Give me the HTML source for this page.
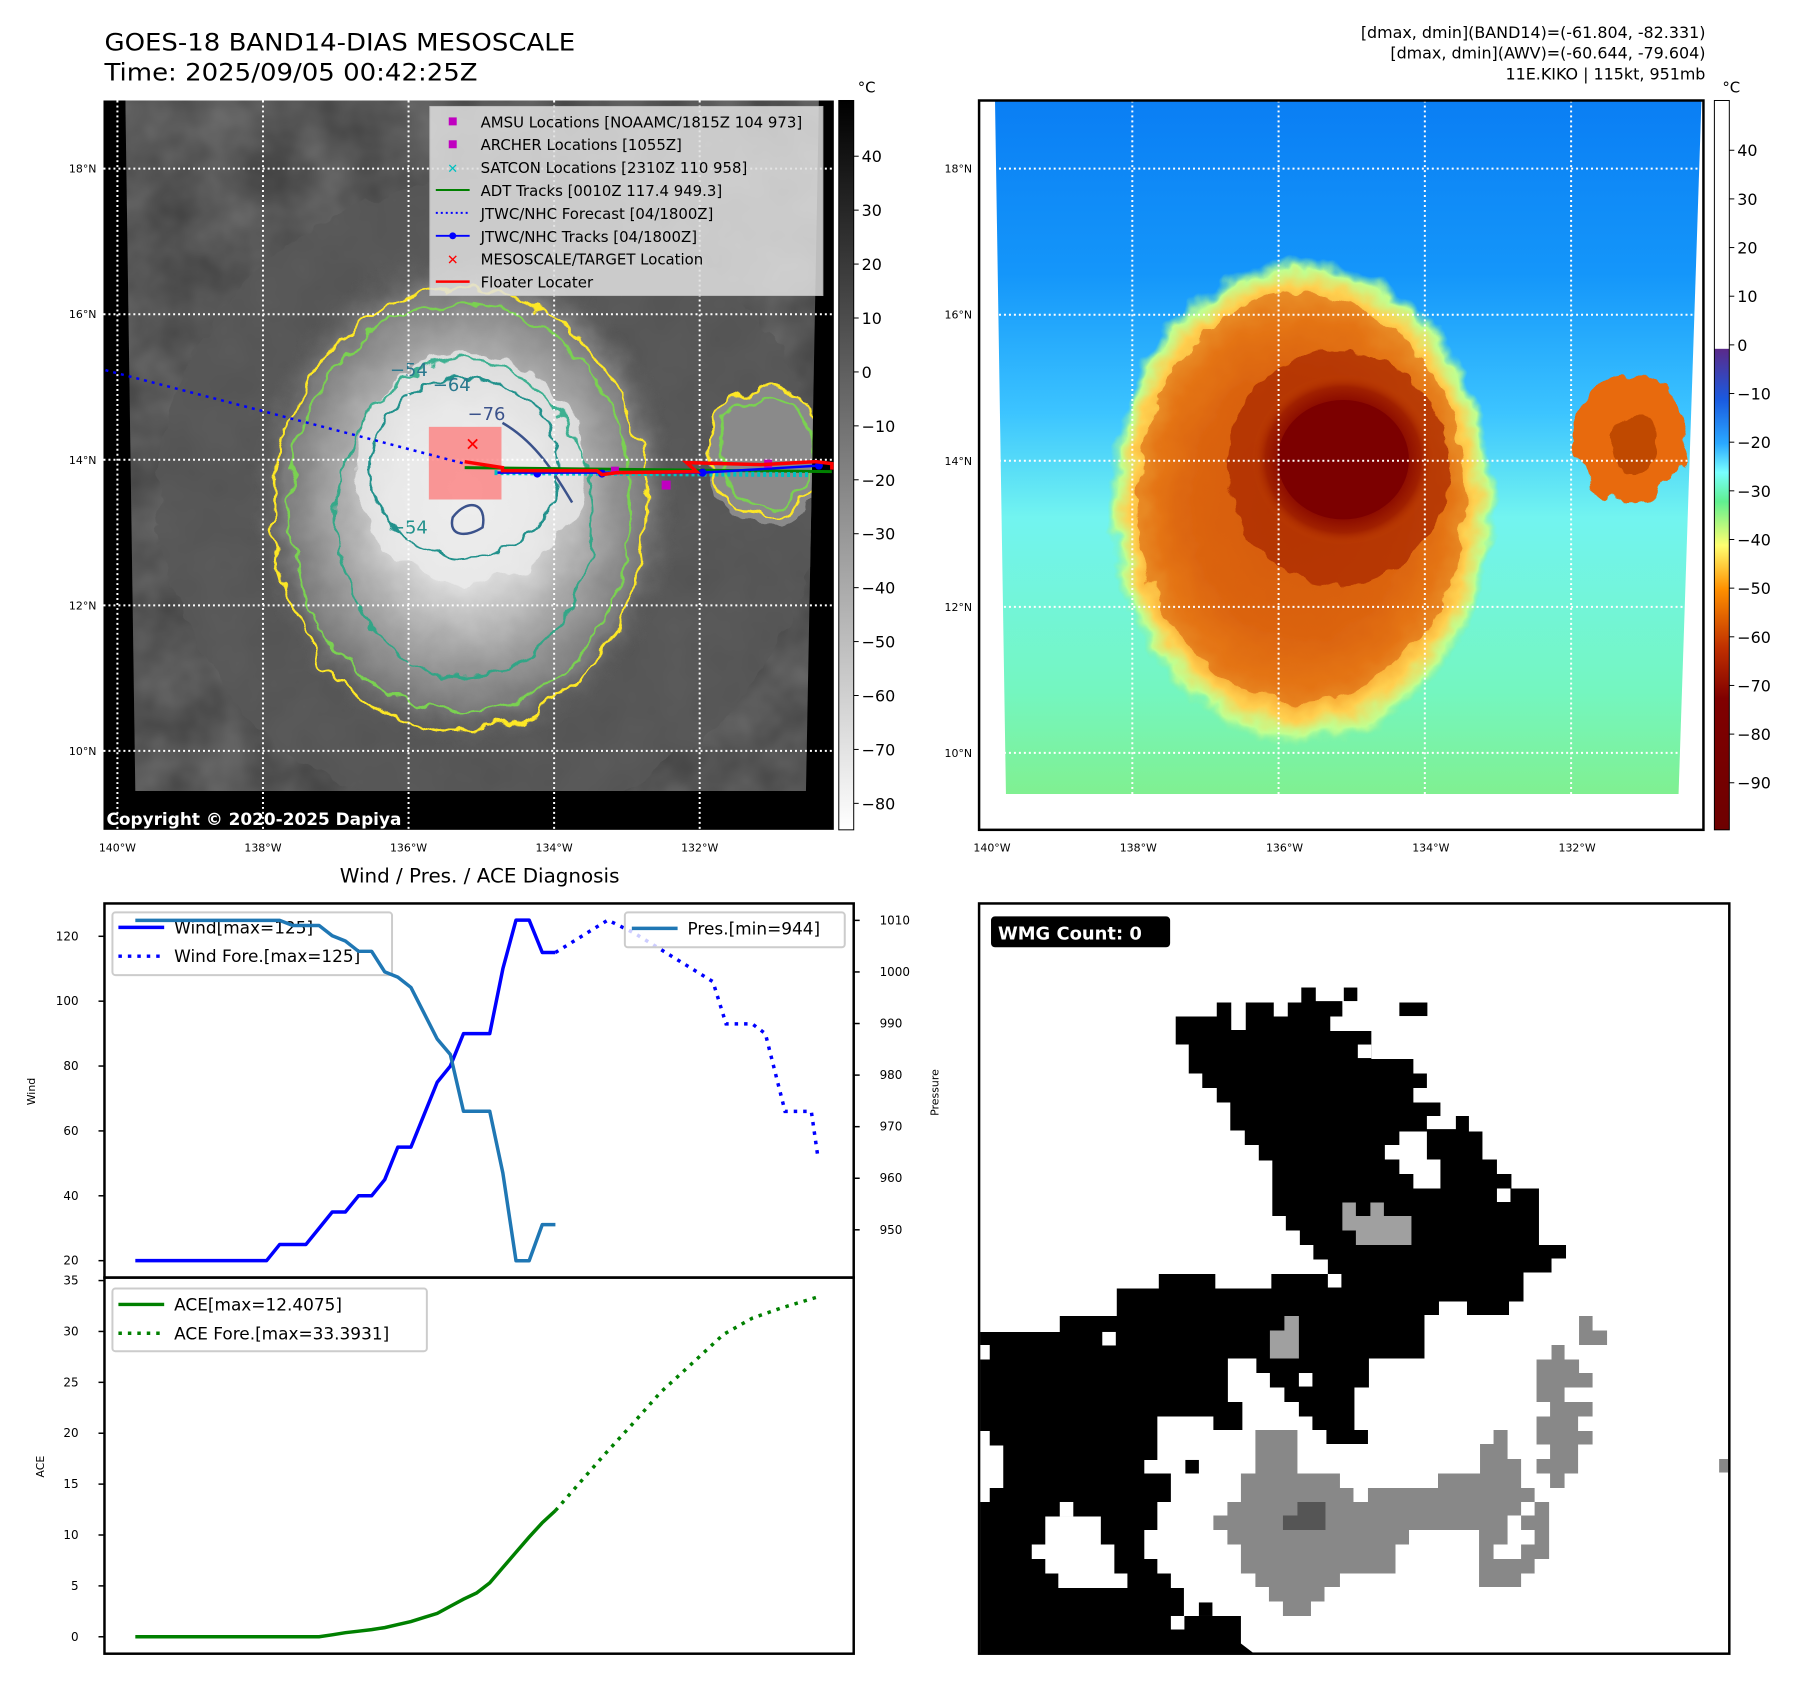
<!DOCTYPE html>
<html><head><meta charset="utf-8"><style>
html,body{margin:0;padding:0;background:#fff;}
svg{display:block;font-family:"DejaVu Sans","Liberation Sans",sans-serif;}
</style></head><body>
<svg width="1797" height="1690" viewBox="0 0 1797 1690" xmlns="http://www.w3.org/2000/svg">
<defs>
<filter id="rough" x="-20%" y="-20%" width="140%" height="140%">
<feTurbulence type="fractalNoise" baseFrequency="0.035" numOctaves="3" seed="4" result="n"/>
<feDisplacementMap in="SourceGraphic" in2="n" scale="22" xChannelSelector="R" yChannelSelector="G"/>
</filter>
<filter id="rough2" x="-20%" y="-20%" width="140%" height="140%">
<feTurbulence type="fractalNoise" baseFrequency="0.06" numOctaves="2" seed="7" result="n"/>
<feDisplacementMap in="SourceGraphic" in2="n" scale="14" xChannelSelector="R" yChannelSelector="G"/>
</filter>
<filter id="noise"><feTurbulence type="fractalNoise" baseFrequency="0.02" numOctaves="3" seed="2"/><feColorMatrix type="matrix" values="0 0 0 0 0.35  0 0 0 0 0.35  0 0 0 0 0.35  0 0 0 0.5 0"/></filter>
<radialGradient id="cloudG" cx="0.5" cy="0.5" r="0.5">
<stop offset="0" stop-color="#f2f2f2"/><stop offset="0.35" stop-color="#dcdcdc"/><stop offset="0.6" stop-color="#a8a8a8"/><stop offset="0.85" stop-color="#7a7a7a"/><stop offset="1" stop-color="#5a5a5a" stop-opacity="0"/>
</radialGradient>
<linearGradient id="bgR" x1="0" y1="0" x2="0" y2="1">
<stop offset="0" stop-color="#0a7ef4"/><stop offset="0.25" stop-color="#1496fa"/><stop offset="0.45" stop-color="#3cc4ff"/><stop offset="0.6" stop-color="#72f4f0"/><stop offset="0.85" stop-color="#74f6c0"/><stop offset="1" stop-color="#80f090"/>
</linearGradient>
<radialGradient id="stormR" cx="0.5" cy="0.5" r="0.5">
<stop offset="0" stop-color="#d05000"/><stop offset="0.55" stop-color="#e06810"/><stop offset="0.75" stop-color="#f59020"/><stop offset="0.88" stop-color="#ffd050"/><stop offset="0.95" stop-color="#c0ff90"/><stop offset="1" stop-color="#80f0a0" stop-opacity="0"/>
</radialGradient>
<radialGradient id="coreR" cx="0.5" cy="0.5" r="0.5">
<stop offset="0" stop-color="#7a0000"/><stop offset="0.6" stop-color="#800000"/><stop offset="0.85" stop-color="#a02000"/><stop offset="1" stop-color="#c04000" stop-opacity="0"/>
</radialGradient>
<linearGradient id="cb1" x1="0" y1="0" x2="0" y2="1"><stop offset="0" stop-color="#000"/><stop offset="1" stop-color="#fff"/></linearGradient>
<linearGradient id="cb2" x1="0" y1="0" x2="0" y2="1">
<stop offset="0" stop-color="#fff"/><stop offset="0.34" stop-color="#fff"/><stop offset="0.341" stop-color="#5a2a8a"/>
<stop offset="0.41" stop-color="#1a5ae0"/><stop offset="0.47" stop-color="#2aa8ff"/><stop offset="0.51" stop-color="#78ffff"/><stop offset="0.55" stop-color="#60f090"/>
<stop offset="0.61" stop-color="#ffff70"/><stop offset="0.67" stop-color="#ff9000"/><stop offset="0.75" stop-color="#c03000"/><stop offset="0.82" stop-color="#800000"/><stop offset="1" stop-color="#6e0000"/>
</linearGradient>
<clipPath id="clipL"><polygon points="126,101 823,101 810,795 136,795"/></clipPath>
<clipPath id="clipR"><polygon points="1000,101 1710,101 1687,798 1011,798"/></clipPath>
</defs>
<g id="fig" transform="scale(0.995)">

<text x="105" y="51" font-size="24" textLength="473" lengthAdjust="spacingAndGlyphs">GOES-18 BAND14-DIAS MESOSCALE</text>
<text x="105" y="81" font-size="24" textLength="375" lengthAdjust="spacingAndGlyphs">Time: 2025/09/05 00:42:25Z</text>
<g font-size="16" text-anchor="end">
<text x="1714" y="38">[dmax, dmin](BAND14)=(-61.804, -82.331)</text>
<text x="1714" y="59">[dmax, dmin](AWV)=(-60.644, -79.604)</text>
<text x="1714" y="80">11E.KIKO | 115kt, 951mb</text>
</g>

<g>
<rect x="104" y="101" width="734" height="733" fill="#000"/>
<g clip-path="url(#clipL)">
<rect x="100" y="100" width="740" height="700" fill="#3e3e3e"/>
<rect x="100" y="100" width="740" height="700" filter="url(#noise)"/>
<ellipse cx="490" cy="500" rx="330" ry="320" fill="#585858" filter="url(#rough)" opacity="0.8"/>
<ellipse cx="468" cy="500" rx="215" ry="250" fill="url(#cloudG)" filter="url(#rough)"/>
<ellipse cx="472" cy="470" rx="115" ry="115" fill="#ededed" opacity="0.75" filter="url(#rough)"/>
<ellipse cx="770" cy="460" rx="60" ry="70" fill="#8a8a8a" filter="url(#rough)"/>
<g fill="none" stroke-width="2.5">
<ellipse cx="462" cy="512" rx="188" ry="222" stroke="#fde725" filter="url(#rough)"/>
<ellipse cx="462" cy="510" rx="172" ry="205" stroke="#7ad151" filter="url(#rough)"/>
<ellipse cx="467" cy="521" rx="128" ry="160" stroke="#22a884" filter="url(#rough)" opacity="0.85"/>
<ellipse cx="467" cy="470" rx="95" ry="90" stroke="#21918c" filter="url(#rough2)"/>
<path d="M505,425 C540,445 560,480 575,505" stroke="#3b528b"/>
<path d="M455,520 C470,500 490,505 485,530 C470,540 450,540 455,520 Z" stroke="#3b528b"/>
<ellipse cx="770" cy="455" rx="58" ry="65" stroke="#fde725" filter="url(#rough)"/>
<ellipse cx="770" cy="455" rx="48" ry="55" stroke="#7ad151" filter="url(#rough)"/>
</g>
<g font-size="18" fill="#2a788e"><text x="392" y="378">−54</text><text x="435" y="393">−64</text><text x="470" y="422" fill="#3b528b">−76</text><text x="392" y="536" fill="#21918c">−54</text></g>
</g>
<g id="gridL"></g>
<rect x="431" y="429" width="73" height="73" fill="#ff7070" opacity="0.7"/>
<path d="M106,372 L467,466" stroke="#0000ff" stroke-width="2.5" stroke-dasharray="3,5" fill="none"/>
<path d="M467,470 L836,474" stroke="#008000" stroke-width="3" fill="none"/>
<path d="M497,475 L812,477" stroke="#00c0c0" stroke-width="5" stroke-dasharray="3,3" fill="none"/>
<path d="M500,475 L706,475 L823,468" stroke="#0000ff" stroke-width="2.5" fill="none"/>
<g fill="#0000ff"><circle cx="540" cy="476" r="4"/><circle cx="605" cy="476" r="4"/><circle cx="706" cy="475" r="4"/><circle cx="823" cy="468" r="4"/></g>
<g fill="#c000c0"><rect x="665" y="483" width="9" height="9"/><rect x="614" y="469" width="8" height="8"/><rect x="768" y="462" width="8" height="8"/></g>
<path d="M467,464 L505,470 L505,473 L600,473 L605,477 L620,475 L700,474 L690,465 L765,467 L820,464 L836,466 L836,472" stroke="#ff0000" stroke-width="3.5" fill="none"/>
<text x="475" y="453" font-size="18" font-weight="bold" fill="#ff0000" text-anchor="middle">✕</text>
<text x="107" y="829" font-size="17" font-weight="bold" fill="#fff">Copyright © 2020-2025 Dapiya</text>
<g>
<rect x="432" y="107" width="395" height="190" fill="#e0e0e0" opacity="0.85" stroke="#ccc"/>
<g font-size="15" fill="#000">
<rect x="451" y="118" width="8" height="8" fill="#c000c0"/><text x="483" y="128">AMSU Locations [NOAAMC/1815Z 104 973]</text>
<rect x="451" y="141" width="8" height="8" fill="#c000c0"/><text x="483" y="151">ARCHER Locations [1055Z]</text>
<text x="455" y="174" fill="#00c0c0" font-size="13" text-anchor="middle" font-weight="bold">✕</text><text x="483" y="174">SATCON Locations [2310Z 110 958]</text>
<line x1="438" y1="191" x2="472" y2="191" stroke="#008000" stroke-width="2"/><text x="483" y="197">ADT Tracks [0010Z 117.4 949.3]</text>
<line x1="438" y1="214" x2="472" y2="214" stroke="#0000ff" stroke-width="2" stroke-dasharray="2,3"/><text x="483" y="220">JTWC/NHC Forecast [04/1800Z]</text>
<line x1="438" y1="237" x2="472" y2="237" stroke="#0000ff" stroke-width="2"/><circle cx="455" cy="237" r="3.5" fill="#0000ff"/><text x="483" y="243">JTWC/NHC Tracks [04/1800Z]</text>
<text x="455" y="266" fill="#ff0000" font-size="14" text-anchor="middle" font-weight="bold">✕</text><text x="483" y="266">MESOSCALE/TARGET Location</text>
<line x1="438" y1="283" x2="472" y2="283" stroke="#ff0000" stroke-width="2.5"/><text x="483" y="289">Floater Locater</text>
</g></g>
</g>
<rect x="843" y="101" width="15" height="733" fill="url(#cb1)" stroke="#000"/>
<text x="862" y="93" font-size="15">°C</text>
<g id="cb1ticks"></g>
<g id="latL"></g>

<g>
<g clip-path="url(#clipR)">
<rect x="990" y="100" width="730" height="700" fill="url(#bgR)"/>
<ellipse cx="1308" cy="505" rx="195" ry="245" fill="url(#stormR)" filter="url(#rough)"/>
<ellipse cx="1308" cy="500" rx="165" ry="205" fill="#d86010" opacity="0.55" filter="url(#rough)"/>
<ellipse cx="1345" cy="470" rx="112" ry="118" fill="#a82800" opacity="0.7" filter="url(#rough2)"/>
<ellipse cx="1350" cy="462" rx="92" ry="86" fill="url(#coreR)"/>
<ellipse cx="1350" cy="462" rx="66" ry="60" fill="#7c0000"/>
<ellipse cx="1638" cy="440" rx="55" ry="65" fill="#e86a10" filter="url(#rough)"/>
<ellipse cx="1645" cy="445" rx="25" ry="30" fill="#c04a00" filter="url(#rough)"/>
</g>
<g id="gridR"></g>
<rect x="984" y="101" width="728" height="733" fill="none" stroke="#000" stroke-width="2.5"/>
</g>
<rect x="1723" y="101" width="15" height="733" fill="url(#cb2)" stroke="#000"/>
<text x="1731" y="93" font-size="15">°C</text>
<g id="cb2ticks"></g>

<text x="482" y="887" font-size="20" text-anchor="middle">Wind / Pres. / ACE Diagnosis</text>
<g id="windChart"></g>
<g id="aceChart"></g>

<g>
<svg x="985" y="909" width="752" height="752" viewBox="0 0 1549 1549" preserveAspectRatio="none">
<polygon fill="#000" points="405,232 490,232 490,203 520,203 520,260 550,260 550,203 608,203 608,232 637,232 637,203 665,203 665,172 695,172 695,200 750,200 750,232 725,232 725,262 810,262 810,320 897,320 897,350 925,350 925,380 897,380 897,410 953,410 953,438 925,438 925,465 985,465 985,438 1012,438 1012,470 1040,470 1040,528 1070,528 1070,558 1100,558 1100,588 1157,588 1157,705 1213,705 1213,733 1183,733 1183,762 1125,762 1125,822 1095,822 1095,850 1008,850 1008,822 950,822 950,850 920,850 920,940 805,940 805,1000 775,1000 775,1088 803,1088 803,1117 717,1117 717,1088 688,1088 688,1060 660,1060 660,1030 630,1030 630,1000 600,1000 600,970 572,970 572,940 513,940 513,1030 543,1030 543,1088 483,1088 483,1060 367,1060 367,1150 340,1150 340,1178 395,1178 395,1237 367,1237 367,1295 340,1295 340,1355 367,1355 367,1385 395,1385 395,1415 422,1415 422,1473 540,1473 540,1530 565,1549 0,1549 0,1237 20,1237 20,1208 48,1208 48,1120 20,1120 20,1090 0,1090 0,942 20,942 20,912 0,912 0,885 165,885 165,852 283,852 283,795 370,795 370,765 487,765 487,795 603,795 603,765 720,765 720,735 690,735 690,705 662,705 662,675 633,675 633,645 605,645 605,530 577,530 577,498 548,498 548,468 518,468 518,410 490,410 490,380 460,380 460,350 432,350 432,290 405,290"/>
<g fill="#fff">
<polygon points="868,470 925,470 925,528 953,528 953,588 897,588 897,558 868,558 868,528 838,528 838,498 868,498"/>
<polygon points="135,1267 250,1267 250,1325 278,1325 278,1385 305,1385 305,1415 162,1415 162,1385 135,1385 135,1355 107,1355 107,1325 135,1325"/>
<rect x="165" y="1237" width="28" height="30"/><rect x="782" y="290" width="28" height="28"/><rect x="253" y="885" width="28" height="28"/><rect x="660" y="970" width="28" height="28"/><rect x="720" y="765" width="28" height="28"/><rect x="1070" y="588" width="28" height="28"/><rect x="395" y="1473" width="28" height="28"/>
</g>
<g fill="#000"><rect x="753" y="172" width="28" height="28"/><rect x="868" y="203" width="58" height="28"/><rect x="425" y="1150" width="28" height="28"/><rect x="453" y="1445" width="28" height="28"/></g>
<g fill="#a0a0a0">
<polygon points="750,617 778,617 778,645 808,645 808,617 836,617 836,645 893,645 893,705 778,705 778,675 750,675"/>
<polygon points="600,882 630,882 630,852 660,852 660,940 600,940"/>
</g>
<g fill="#888">
<polygon points="570,1088 657,1088 657,1178 745,1178 745,1208 773,1208 773,1237 803,1237 803,1208 948,1208 948,1178 1035,1178 1035,1117 1063,1117 1063,1088 1092,1088 1092,1148 1120,1148 1120,1208 1148,1208 1148,1237 1120,1237 1120,1265 1092,1265 1092,1325 1063,1325 1063,1355 1148,1355 1148,1385 1120,1385 1120,1413 1033,1413 1033,1295 888,1295 888,1325 860,1325 860,1385 745,1385 745,1413 713,1413 713,1443 685,1443 685,1473 627,1473 627,1443 598,1443 598,1413 570,1413 570,1385 540,1385 540,1325 512,1325 512,1295 483,1295 483,1265 512,1265 512,1237 540,1237 540,1178 570,1178"/>
<polygon points="1183,912 1210,912 1210,942 1240,942 1240,970 1268,970 1268,1000 1210,1000 1210,1030 1268,1030 1268,1060 1238,1060 1238,1090 1268,1090 1268,1118 1238,1118 1238,1178 1210,1178 1210,1208 1180,1208 1180,1178 1152,1178 1152,1148 1180,1148 1180,1118 1152,1118 1152,1060 1180,1060 1180,1030 1152,1030 1152,942 1183,942"/>
<polygon points="1240,852 1268,852 1268,882 1298,882 1298,912 1240,912"/>
<polygon points="1148,1237 1178,1237 1178,1355 1120,1355 1120,1325 1148,1325 1148,1295 1120,1295 1120,1265 1148,1265"/>
<rect x="1530" y="1148" width="19" height="28"/>
</g>
<polygon fill="#555" points="657,1237 715,1237 715,1295 627,1295 627,1265 657,1265"/>
</svg>
<rect x="984" y="908" width="754" height="754" fill="none" stroke="#000" stroke-width="2.5"/>
<rect x="996" y="921" width="180" height="31" rx="4" fill="#000"/>
<text x="1003" y="944" font-size="18" font-weight="bold" fill="#fff">WMG Count: 0</text>
</g>
</g>
</svg>
<script>
const obsIndex = [0,1,2,3,4,5,6,7,8,9,10,11,12,13,14,15,16,17,18,19,20,21,22,23,24,25,26,27,28,29,30,31,32];
const windObs = [20,20,20,20,20,20,20,20,20,20,20,25,25,25,30,35,35,40,40,45,55,55,65,75,80,90,90,90,110,125,125,115,115];
const presObs = [1010,1010,1010,1010,1010,1010,1010,1010,1010,1010,1010,1010,1009,1009,1009,1007,1006,1004,1004,1000,999,997,992,987,984,973,973,973,961,944,944,951,951];
const windForeIndex = [32,36,38,44,45,47,48,49.5,51.5,52];
const windFore = [115,125,121,106,93,93,90,66,66,52];
const aceObs = [0,0,0,0,0,0,0,0,0,0,0,0,0,0,0,0.2,0.4,0.55,0.7,0.9,1.2,1.5,1.9,2.3,3.0,3.7,4.3,5.3,6.8,8.3,9.8,11.2,12.4];
const aceForeIndex = [32,35.6,37.8,40,42.2,44.8,47,49.2,52];
const aceFore = [12.4,17.7,20.8,24,26.6,29.7,31.3,32.3,33.4];
const windTicks = [20,40,60,80,100,120];
const presTicks = [950,960,970,980,990,1000,1010];
const aceTicks = [0,5,10,15,20,25,30,35];
const latTicks = ["18°N","16°N","14°N","12°N","10°N"];
const lonTicks = ["140°W","138°W","136°W","134°W","132°W"];
const cb1Ticks = [40,30,20,10,0,-10,-20,-30,-40,-50,-60,-70,-80];
const cb2Ticks = [40,30,20,10,0,-10,-20,-30,-40,-50,-60,-70,-80,-90];

const NS='http://www.w3.org/2000/svg';
function mk(tag, attrs, parent, txt){const e=document.createElementNS(NS,tag);for(const k in attrs)e.setAttribute(k,attrs[k]);if(txt!==undefined)e.textContent=txt;parent.appendChild(e);return e;}
const xS=i=>136+i*(822-136)/52;
const yW=v=>1267-(v-20)*(1267-941)/100;
const yP=v=>1236-(v-950)*(1236-925)/60;
const yA=v=>1645-v*(1645-1287)/35;
function pathOf(xs,ys,fx,fy){return xs.map((x,k)=>(k?'L':'M')+fx(x).toFixed(1)+','+fy(ys[k]).toFixed(1)).join(' ');}
const fmt=v=>v<0?'\u2212'+(-v):String(v);

const gL=document.getElementById('gridL'), gR=document.getElementById('gridR'), latL=document.getElementById('latL');
const fig=document.getElementById('fig');
latTicks.forEach((t,k)=>{
  const y=169.5+k*146.3;
  let l=mk('line',{x1:104,x2:838,y1:y,y2:y,stroke:'#fff','stroke-width':2,'stroke-dasharray':'2,3'},gL);
  
  
  let t1=mk('text',{x:97,y:y+4,'font-size':11,'text-anchor':'end'},latL,t);
  
  
  const y2=169.5+k*146.8;
  let l2=mk('line',{x1:984,x2:1712,y1:y2,y2:y2,stroke:'#fff','stroke-width':2,'stroke-dasharray':'2,3'},gR);
  
  
  let t2=mk('text',{x:977,y:y2+4,'font-size':11,'text-anchor':'end'},fig,t);
  
  
});
lonTicks.forEach((t,k)=>{
  const x=118+k*146.3;
  let l=mk('line',{x1:x,x2:x,y1:101,y2:834,stroke:'#fff','stroke-width':2,'stroke-dasharray':'2,3'},gL);
  
  
  let t1=mk('text',{x:x,y:856,'font-size':11,'text-anchor':'middle'},fig,t);
  
  
  const x2=991+k*147;
  if(k>0){let l2=mk('line',{x1:x2,x2:x2,y1:101,y2:798,stroke:'#fff','stroke-width':2,'stroke-dasharray':'2,3'},gR);
  
  }
  let t2=mk('text',{x:x2+6,y:856,'font-size':11,'text-anchor':'middle'},fig,t);
  
  
});
const cb1=document.getElementById('cb1ticks'), cb2=document.getElementById('cb2ticks');
cb1Ticks.forEach(v=>{const y=157+(40-v)*5.42;
  mk('line',{x1:858,x2:863,y1:y,y2:y,stroke:'#000'},cb1);
  let t=mk('text',{x:866,y:y+6,'font-size':16},cb1,fmt(v));
  
  });
cb2Ticks.forEach(v=>{const y=151+(40-v)*4.89;
  mk('line',{x1:1738,x2:1743,y1:y,y2:y,stroke:'#000'},cb2);
  let t=mk('text',{x:1746,y:y+6,'font-size':16},cb2,fmt(v));
  
  });

const wc=document.getElementById('windChart');
let fr=mk('rect',{x:105,y:908,width:753,height:376,fill:'none',stroke:'#000','stroke-width':2.5},wc);


windTicks.forEach(v=>{const y=yW(v);mk('line',{x1:99,x2:105,y1:y,y2:y,stroke:'#000','stroke-width':1.5},wc);
  let t=mk('text',{x:79,y:y+4,'font-size':12,'text-anchor':'end'},wc,v);
  
  });
presTicks.forEach(v=>{const y=yP(v);mk('line',{x1:858,x2:864,y1:y,y2:y,stroke:'#000','stroke-width':1.5},wc);
  let t=mk('text',{x:884,y:y+4,'font-size':12},wc,v);
  
  });
let yl=mk('text',{x:35,y:1097,'font-size':11,'text-anchor':'middle',transform:'rotate(-90 35 1097)'},wc,'Wind');


let pl=mk('text',{x:943,y:1098,'font-size':11,'text-anchor':'middle',transform:'rotate(-90 943 1098)'},wc,'Pressure');


let wl=mk('path',{d:pathOf(obsIndex,windObs,xS,yW),stroke:'#0000ff','stroke-width':3.5,fill:'none','stroke-linejoin':'round'},wc);


let wf=mk('path',{d:pathOf(windForeIndex,windFore,xS,yW),stroke:'#0000ff','stroke-width':3.5,fill:'none','stroke-dasharray':'3.5,6'},wc);


let pr=mk('path',{d:pathOf(obsIndex,presObs,xS,yP),stroke:'#1f77b4','stroke-width':3.5,fill:'none','stroke-linejoin':'round'},wc);


let lg1=mk('g',{},wc);


mk('rect',{x:113,y:917,width:281,height:63,rx:3,fill:'#fff','fill-opacity':0.8,stroke:'#ccc','stroke-width':2},lg1);
mk('line',{x1:119,x2:165,y1:932,y2:932,stroke:'#0000ff','stroke-width':3.5},lg1);
mk('line',{x1:119,x2:165,y1:961,y2:961,stroke:'#0000ff','stroke-width':3.5,'stroke-dasharray':'3.5,6'},lg1);
mk('text',{x:175,y:938,'font-size':17},lg1,'Wind[max=125]');
mk('text',{x:175,y:967,'font-size':17},lg1,'Wind Fore.[max=125]');
let lg2=mk('g',{},wc);


mk('rect',{x:628,y:917,width:221,height:35,rx:3,fill:'#fff','fill-opacity':0.8,stroke:'#ccc','stroke-width':2},lg2);
mk('line',{x1:635,x2:681,y1:933,y2:933,stroke:'#1f77b4','stroke-width':3.5},lg2);
mk('text',{x:691,y:939,'font-size':17},lg2,'Pres.[min=944]');
wc.appendChild(pr);

const ac=document.getElementById('aceChart');
let fr2=mk('rect',{x:105,y:1284,width:753,height:378,fill:'none',stroke:'#000','stroke-width':2.5},ac);


aceTicks.forEach(v=>{const y=yA(v);mk('line',{x1:99,x2:105,y1:y,y2:y,stroke:'#000','stroke-width':1.5},ac);
  let t=mk('text',{x:79,y:y+4,'font-size':12,'text-anchor':'end'},ac,v);
  
  });
let al=mk('text',{x:44,y:1474,'font-size':11,'text-anchor':'middle',transform:'rotate(-90 44 1474)'},ac,'ACE');


let lg3=mk('g',{},ac);


mk('rect',{x:113,y:1295,width:316,height:63,rx:3,fill:'#fff','fill-opacity':0.8,stroke:'#ccc','stroke-width':2},lg3);
mk('line',{x1:119,x2:165,y1:1311,y2:1311,stroke:'#008000','stroke-width':3.5},lg3);
mk('line',{x1:119,x2:165,y1:1340,y2:1340,stroke:'#008000','stroke-width':3.5,'stroke-dasharray':'3.5,6'},lg3);
mk('text',{x:175,y:1317,'font-size':17},lg3,'ACE[max=12.4075]');
mk('text',{x:175,y:1346,'font-size':17},lg3,'ACE Fore.[max=33.3931]');
let a1=mk('path',{d:pathOf(obsIndex,aceObs,xS,yA),stroke:'#008000','stroke-width':3.5,fill:'none'},ac);


let a2=mk('path',{d:pathOf(aceForeIndex,aceFore,xS,yA),stroke:'#008000','stroke-width':3.5,fill:'none','stroke-dasharray':'3.5,6'},ac);


</script>
</body></html>
